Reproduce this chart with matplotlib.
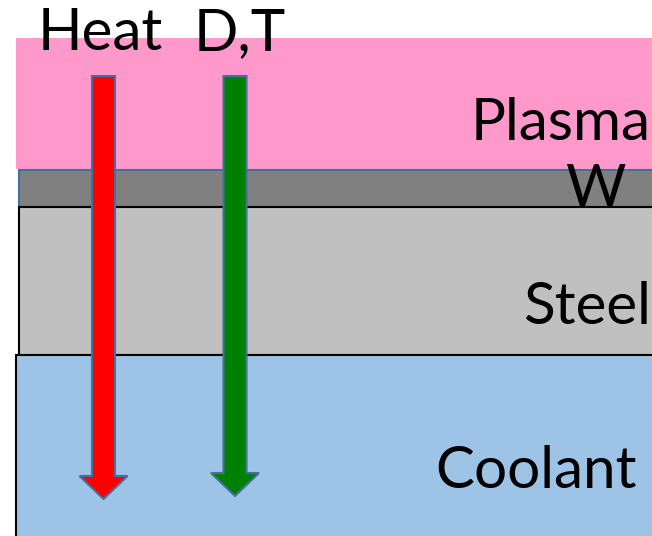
import matplotlib.pyplot as plt
from matplotlib.patches import Rectangle

# layer stack (pixel coordinates, y downwards)
layers = ["Plasma", "W", "Steel", "Coolant"]
layer_left = [16, 19, 19, 16]
layer_top = [38, 170, 207, 355]
layer_bottom = [169, 207, 355, 545]
layer_colors = ["#FF99CC", "#808080", "#C0C0C0", "#9DC3E6"]
layer_edges = ["none", "#41719C", "black", "black"]

# labels placed right-aligned against the page edge
label_right = [651, 626, 651, 637]
label_mid = [124, 189, 307, 471]

# flux arrows
arrow_names = ["Heat", "D,T"]
arrow_x = [103.5, 235]
arrow_top = [76, 76]
arrow_tip = [499, 496]
arrow_colors = ["#FF0000", "#008000"]
arrow_label_x = [100, 240]

W, H = 652, 536
fig = plt.figure(figsize=(W / 100, H / 100), dpi=100)
ax = fig.add_axes([0, 0, 1, 1])
ax.set_xlim(0, W)
ax.set_ylim(H, 0)
ax.axis("off")

for name, x0, y0, y1, fc, ec in zip(layers, layer_left, layer_top, layer_bottom,
                                    layer_colors, layer_edges):
    ax.add_patch(Rectangle((x0, y0), W + 10 - x0, y1 - y0, facecolor=fc,
                           edgecolor=ec, linewidth=1.5 if ec != "none" else 0))

for name, xr, ym in zip(layers, label_right, label_mid):
    ax.text(xr, ym, name, ha="right", va="center", fontsize=42,
            family="Lato", color="black")

for name, x, y0, y1, c, lx in zip(arrow_names, arrow_x, arrow_top, arrow_tip,
                                  arrow_colors, arrow_label_x):
    ax.arrow(x, y0, 0, y1 - y0, width=23, head_width=48, head_length=23,
             length_includes_head=True, facecolor=c, edgecolor="#41719C",
             linewidth=1.5)
    ax.text(lx, 34, name, ha="center", va="center", fontsize=42,
            family="Lato", color="black")

fig.savefig("out.png", dpi=100)
